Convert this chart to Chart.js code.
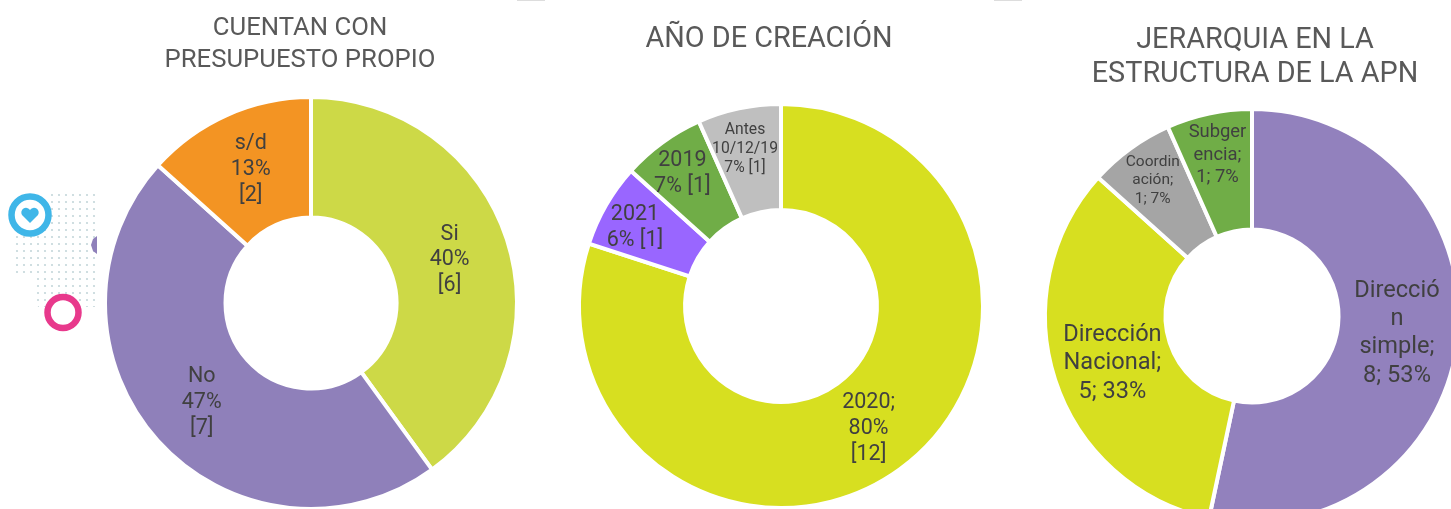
<!DOCTYPE html>
<html>
<head>
<meta charset="utf-8">
<script src="https://cdn.jsdelivr.net/npm/chart.js@4"></script>
<style>
    html, body { margin: 0; padding: 0; background: #fff; width: 1451px; height: 509px; overflow: hidden; }
    canvas { position: absolute; top: 0; }
    #presupuesto { left: 50px; }
    #creacion { left: 520px; }
    #jerarquia { left: 1035px; }
    .tab { position: absolute; top: 0; width: 28px; height: 1px; background: #ddd; }
    #deco { position: absolute; left: 0; top: 185px; }
</style>
</head>
<body>
<div class="tab" style="left:517px"></div>
<div class="tab" style="left:994px"></div>

<svg id="deco" width="97" height="155" viewBox="0 0 97 155">
    <defs>
        <pattern id="dots" width="7" height="7" patternUnits="userSpaceOnUse">
            <circle cx="3" cy="3" r="1.1" fill="#c4d6da"></circle>
        </pattern>
    </defs>
    <path d="M50 8 H97 V122 H38 L32 88 H15 V52 L30 30 Z" fill="url(#dots)"></path>
    <path d="M97 51 L93 54 L91 60 L93 66 L97 69 Z" fill="#8f80ba"></path>
    <circle cx="30" cy="30" r="18.5" fill="#fff" stroke="#3fb6e8" stroke-width="6.5"></circle>
    <path d="M30 38 L22 30 A4.5 4.5 0 0 1 30 25 A4.5 4.5 0 0 1 38 30 Z" fill="#3fb6e8"></path>
    <circle cx="63" cy="127.5" r="15.5" fill="#fff" stroke="#e8398c" stroke-width="6.5"></circle>
</svg>

<canvas id="presupuesto" width="500" height="560"></canvas>
<canvas id="creacion" width="500" height="560"></canvas>
<canvas id="jerarquia" width="440" height="560"></canvas>

<script>
const presupuestoCats = ['Si', 'No', 's/d'];
const presupuestoVals = [6, 7, 2];
const presupuestoLabels = [['Si', '40%', '[6]'], ['No', '47%', '[7]'], ['s/d', '13%', '[2]']];
const presupuestoTitle = ['CUENTAN CON', 'PRESUPUESTO PROPIO'];

const creacionCats = ['2020', '2021', '2019', 'Antes 10/12/19'];
const creacionVals = [12, 1, 1, 1];
const creacionLabels = [['2020;', '80%', '[12]'], ['2021', '6% [1]'], ['2019', '7% [1]'], ['Antes', '10/12/19', '7% [1]']];
const creacionTitle = ['AÑO DE CREACIÓN'];

const jerarquiaCats = ['Dirección simple', 'Dirección Nacional', 'Coordinación', 'Subgerencia'];
const jerarquiaVals = [8, 5, 1, 1];
const jerarquiaLabels = [['Direcció', 'n', 'simple;', '8; 53%'], ['Dirección', 'Nacional;', '5; 33%'], ['Coordin', 'ación;', '1; 7%'], ['Subger', 'encia;', '1; 7%']];
const jerarquiaTitle = ['JERARQUIA EN LA', 'ESTRUCTURA DE LA APN'];

// writes the wrapped text in the middle of every slice, nudged a bit where the original was
const sliceLabels = {
    id: 'sliceLabels',
    afterLayout(chart, args, opts) {
        // titles are not centred over their doughnuts
        chart.titleBlock.left += opts.titleShift;
        chart.titleBlock.right += opts.titleShift;
    },
    afterDatasetsDraw(chart, args, opts) {
        const ctx = chart.ctx;
        const arcs = chart.getDatasetMeta(0).data;
        ctx.save();
        ctx.fillStyle = '#404040';
        ctx.textAlign = 'center';
        ctx.textBaseline = 'middle';
        arcs.forEach(function(arc, i) {
            const lines = opts.lines[i];
            const size = opts.sizes[i];
            const lh = size * 1.2;
            const c = arc.getCenterPoint();
            const x = c.x + opts.nudge[i][0];
            const y = c.y + opts.nudge[i][1] + 2;
            ctx.font = size + 'px Roboto';
            lines.forEach(function(line, n) {
                ctx.fillText(line, x, y + (n - (lines.length - 1) / 2) * lh);
            });
        });
        ctx.restore();
    }
};

function makeDonut(id, cats, vals, colors, title, lines, look) {
    return new Chart(document.getElementById(id), {
        type: 'doughnut',
        data: {
            labels: cats,
            datasets: [{
                data: vals,
                backgroundColor: colors,
                borderColor: '#fff',
                borderWidth: 4,
                radius: look.radius,
                cutout: look.cutout
            }]
        },
        options: {
            responsive: false,
            animation: false,
            layout: { padding: look.pad },
            plugins: {
                legend: { display: false },
                tooltip: { enabled: false },
                title: {
                    display: true,
                    text: title,
                    color: '#595959',
                    font: { family: 'Roboto', size: look.titleSize, weight: 'normal', lineHeight: look.titleLh },
                    padding: look.titlePad
                },
                sliceLabels: { lines: lines, sizes: look.sizes, nudge: look.nudge, titleShift: look.titleShift }
            }
        },
        plugins: [sliceLabels]
    });
}

makeDonut('presupuesto', presupuestoCats, presupuestoVals, ['#cdd947', '#8f80ba', '#f39423'],
    presupuestoTitle, presupuestoLabels, {
        radius: 206, cutout: '41.5%',
        pad: { left: 22, top: 0, bottom: 44, right: 0 },
        titleSize: 25.7, titleLh: 1.245, titlePad: { top: 13, bottom: 13 }, titleShift: -11,
        sizes: [21.5, 21.5, 21.5],
        nudge: [[0, 0], [-1, 0], [-1, -2]]
    });

makeDonut('creacion', creacionCats, creacionVals, ['#d7df20', '#9966ff', '#70ad47', '#bfbfbf'],
    creacionTitle, creacionLabels, {
        radius: 202, cutout: '47.5%',
        pad: { left: 22, top: 0, bottom: 14, right: 0 },
        titleSize: 28.8, titleLh: 1.25, titlePad: { top: 22, bottom: 8 }, titleShift: -12,
        sizes: [21.5, 21.5, 21.5, 15.7],
        nudge: [[0, 0], [-17, -6], [-11, -14], [-5, -13]]
    });

makeDonut('jerarquia', jerarquiaCats, jerarquiaVals, ['#9281bd', '#d7df20', '#a5a5a5', '#70ad47'],
    jerarquiaTitle, jerarquiaLabels, {
        radius: 207, cutout: '41.8%',
        pad: { left: 0, top: 0, bottom: 27, right: 6 },
        titleSize: 28.8, titleLh: 1.18, titlePad: { top: 24, bottom: 7 }, titleShift: 3,
        sizes: [23.6, 23.6, 15.5, 18.4],
        nudge: [[-1, 0], [0, 0], [-13, -19], [-4, -19.5]]
    });
</script>
</body>
</html>
